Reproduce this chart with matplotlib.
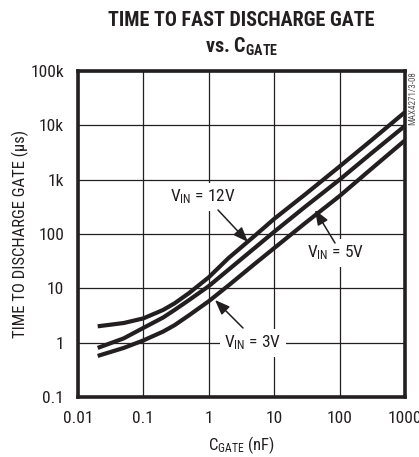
import numpy as np
import matplotlib
matplotlib.use('Agg')
import matplotlib.pyplot as plt

# Data
cgate_nf = [0.02, 0.05, 0.1, 0.2, 0.3, 0.5, 1, 2, 5, 10, 30, 100, 300, 1000]
t_12v = [2.0, 2.3, 2.8, 4.0, 5.3, 8.2, 16, 36, 92, 190, 540, 1750, 5200, 17500]
t_5v = [0.8, 1.2, 1.87, 2.9, 4.0, 6.1, 11, 22, 55, 110, 320, 1000, 3000, 9800]
t_3v = [0.57, 0.8, 1.1, 1.6, 2.1, 3.2, 5.8, 11.3, 28, 55, 160, 500, 1550, 5300]

x_ticks = [0.01, 0.1, 1, 10, 100, 1000]
x_labels = ['0.01', '0.1', '1', '10', '100', '1000']
y_ticks = [0.1, 1, 10, 100, 1e3, 1e4, 1e5]
y_labels = ['0.1', '1', '10', '100', '1k', '10k', '100k']

FONT = ['Roboto Condensed', 'DejaVu Sans']
plt.rcParams['font.family'] = FONT
plt.rcParams['mathtext.fontset'] = 'custom'
plt.rcParams['mathtext.rm'] = 'Roboto Condensed'
plt.rcParams['mathtext.it'] = 'Roboto Condensed'
plt.rcParams['mathtext.bf'] = 'Roboto Condensed:black'

INK = '#231f20'
W, H = 419, 457
fig = plt.figure(figsize=(W / 100, H / 100), dpi=100)
ax = fig.add_axes([78 / W, 1 - 397 / H, (405 - 78) / W, (397 - 71) / H])

for y in (t_12v, t_5v, t_3v):
    ax.plot(cgate_nf, y, color=INK, lw=3.0, solid_capstyle='butt', zorder=3)

ax.set_xscale('log')
ax.set_yscale('log')
ax.set_xlim(0.01, 1000)
ax.set_ylim(0.1, 1e5)
ax.set_xticks(x_ticks)
ax.set_xticklabels(x_labels)
ax.set_yticks(y_ticks)
ax.set_yticklabels(y_labels)
ax.minorticks_off()
ax.tick_params(length=0, labelsize=12.5, pad=10, colors=INK)
ax.grid(True, color=INK, lw=0.9)
for s in ax.spines.values():
    s.set_linewidth(2.6)
    s.set_color(INK)

ax.set_xlabel(r'C$_{\mathrm{GATE}}$ (nF)', fontsize=12, labelpad=6, color=INK)
ax.set_ylabel('TIME TO DISCHARGE GATE (\u00b5s)', fontsize=12, labelpad=1, color=INK)

box = dict(boxstyle='square,pad=0.25', fc='white', ec='none')
arrow = dict(arrowstyle='-|>,head_length=0.9,head_width=0.35', color=INK, lw=1.1,
             shrinkA=0, shrinkB=0)

def label(text, x, y):
    ax.text(x, H - y, text, transform=None, ha='center', va='center',
            fontsize=12.5, color=INK, bbox=box, zorder=5)

def arr(tip, tail):
    ax.annotate('', xy=(tip[0], H - tip[1]), xycoords='figure pixels',
                xytext=(tail[0], H - tail[1]), textcoords='figure pixels',
                arrowprops=arrow, zorder=6)

label(r'V$_{\mathrm{IN}}$ = 12V', 203, 197)
label(r'V$_{\mathrm{IN}}$ = 5V', 336, 253)
label(r'V$_{\mathrm{IN}}$ = 3V', 253, 343)
arr((248, 242), (218, 210))
arr((315, 210), (335, 243))
arr((215, 300), (243, 328))

fig.text(241.5 / W, 1 - 20 / H, 'TIME TO FAST DISCHARGE GATE', ha='center', va='center',
         fontsize=14.5, fontweight='black', color=INK)
fig.text(241.5 / W, 1 - 47 / H, r'vs. C$_{\mathbf{GATE}}$', ha='center', va='center',
         fontsize=14.5, fontweight='black', color=INK)
fig.text(413 / W, 1 - 98 / H, 'MAX4271/3-08', rotation=90, ha='center', va='center',
         fontsize=6.5, color='#555555')

fig.savefig('out.png', dpi=100)
